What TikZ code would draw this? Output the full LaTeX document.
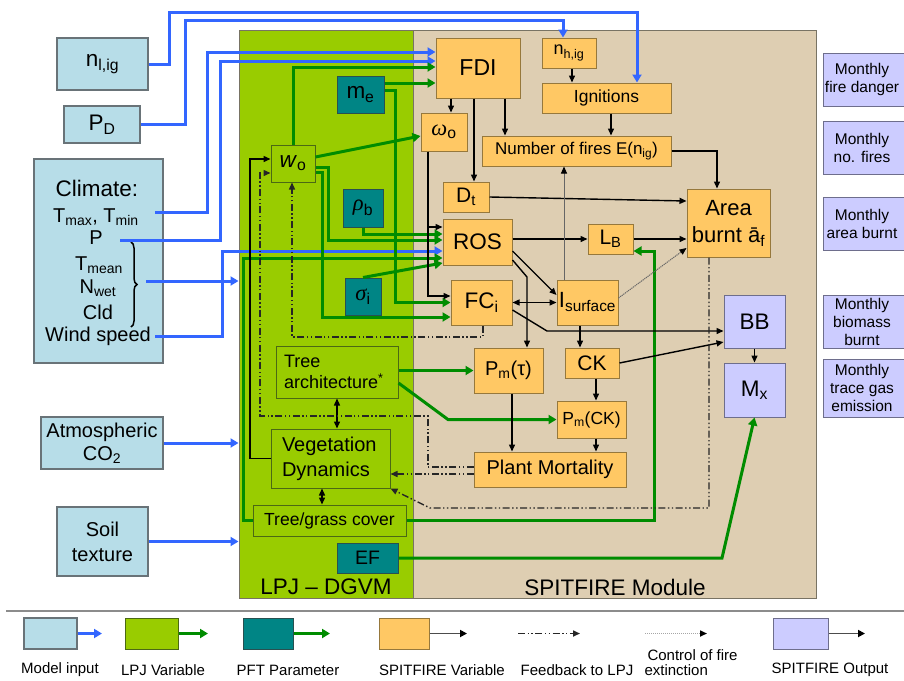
\documentclass[tikz,border=0pt]{standalone}
\usepackage{fontspec}
\setmainfont{Liberation Sans}
\newfontfamily\serifgr{Liberation Serif}
\usetikzlibrary{arrows.meta,decorations.pathreplacing}
\definecolor{inblue}{RGB}{183,221,232}
\definecolor{inborder}{RGB}{105,115,120}
\definecolor{lpjgreen}{RGB}{153,204,0}
\definecolor{lpjborder}{RGB}{75,105,20}
\definecolor{tealbox}{RGB}{0,133,133}
\definecolor{pftborder}{RGB}{40,80,80}
\definecolor{orangebox}{RGB}{255,200,100}
\definecolor{spborder}{RGB}{150,120,60}
\definecolor{lavbox}{RGB}{204,204,255}
\definecolor{outborder}{RGB}{110,110,140}
\definecolor{tanbox}{RGB}{222,206,178}
\definecolor{regborder}{RGB}{120,115,100}
\definecolor{blueln}{RGB}{51,102,255}
\definecolor{greenln}{RGB}{0,140,0}
\newcommand\szXL{\fontsize{22.5}{27}\selectfont}
\newcommand\szL{\fontsize{20}{25}\selectfont}
\newcommand\szM{\fontsize{18}{21}\selectfont}
\newcommand\szS{\fontsize{15.5}{18}\selectfont}
\newcommand\szLeg{\fontsize{15}{16}\selectfont}
\newcommand\grit[1]{{\serifgr\itshape #1}}
\begin{document}
\begin{tikzpicture}[x=1pt,y=-1pt,
  region/.style={draw=regborder, line width=1pt, inner sep=0pt},
  inbox/.style={draw=inborder, fill=inblue, line width=1.2pt, inner sep=0pt},
  lpjbox/.style={draw=lpjborder, fill=lpjgreen, line width=1pt, inner sep=0pt},
  pftbox/.style={draw=pftborder, fill=tealbox, line width=1pt, inner sep=0pt},
  spbox/.style={draw=spborder, fill=orangebox, line width=1pt, inner sep=0pt},
  outbox/.style={draw=outborder, fill=lavbox, line width=1pt, inner sep=0pt},
  bl/.style={draw=blueln, line width=3pt, -{Triangle[length=8pt,width=9pt]}},
  gr/.style={draw=greenln, line width=3pt, -{Triangle[length=8pt,width=9pt]}},
  bk/.style={draw=black, line width=1.4pt, -{Triangle[length=7pt,width=6pt]}},
  bkd/.style={draw=black, line width=1.4pt, {Triangle[length=7pt,width=6pt]}-{Triangle[length=7pt,width=6pt]}},
  fb/.style={draw=black!85, line width=1.4pt, dash pattern=on 7pt off 2.5pt on 1.4pt off 2.5pt on 1.4pt off 2.5pt, -{Triangle[length=7pt,width=6pt]}},
  ctl/.style={draw=black!60, line width=1pt, dash pattern=on 1.2pt off 0.8pt, -{Triangle[length=7pt,width=6pt,color=black]}},
  legln/.style={draw=black!70, line width=1.8pt, -{Triangle[length=7pt,width=7pt,color=black]}}
]
\useasboundingbox (0,0) rectangle (904,680);

% regions
\node[region, fill=tanbox, minimum width=403pt, minimum height=568pt] (spit) at (614.5,314) {};
\node[region, fill=lpjgreen, minimum width=174pt, minimum height=568pt] (lpj) at (326,314) {};
\node[font=\szXL] (lpjlbl) at (326,587) {LPJ – DGVM};
\node[font=\szXL] (spitlbl) at (615,587) {SPITFIRE Module};

% model inputs
\node[inbox, minimum width=91pt, minimum height=52pt, font=\szXL] (nlig) at (102.5,64) {n\textsubscript{l,ig}};
\node[inbox, minimum width=76pt, minimum height=37pt, font=\szXL] (pd) at (102,124.5) {P\textsubscript{D}};
\node[inbox, minimum width=129pt, minimum height=204pt] (clim) at (98.5,261) {};
\node[font=\szXL] (climlbl) at (97,188) {Climate:};
\node[font=\szL] (tmax) at (96,217) {T\textsubscript{max}, T\textsubscript{min}};
\node[font=\szL] (pp) at (96,238) {P};
\node[font=\szL] (tmean) at (99,265) {T\textsubscript{mean}};
\node[font=\szL] (nwet) at (98,288) {N\textsubscript{wet}};
\node[font=\szL] (cld) at (98,312) {Cld};
\node[font=\szL] (wind) at (98,336) {Wind speed};
\draw[line width=1.5pt, decorate, decoration={brace, amplitude=6pt}] (131,242) -- (131,327);
\node[inbox, minimum width=122pt, minimum height=52pt, font={\fontsize{20}{23}\selectfont}, align=center] (co2) at (102,443) {Atmospheric\\CO\textsubscript{2}};
\node[inbox, minimum width=91pt, minimum height=69pt, font=\szL, align=center] (soil) at (102.5,541.5) {Soil\\texture};

% SPITFIRE variables
\node[spbox, minimum width=84pt, minimum height=60pt, font={\fontsize{23}{27}\selectfont}] (fdi) at (478,68) {FDI};
\node[spbox, minimum width=54pt, minimum height=30pt, font=\szM] (nhig) at (569,53) {n\textsubscript{h,ig}};
\node[spbox, minimum width=129pt, minimum height=30pt, font={\fontsize{17.5}{20}\selectfont}] (ign) at (606.5,98) {Ignitions};
\node[spbox, minimum width=46pt, minimum height=38pt, font=\szXL] (omega) at (444,132) {\grit{ω}\textsubscript{o}};
\node[spbox, minimum width=189pt, minimum height=30pt, font={\fontsize{17}{20}\selectfont}] (nfires) at (576.5,151) {Number of fires E(n\textsubscript{ig})};
\node[spbox, minimum width=46pt, minimum height=30pt, font={\fontsize{21}{24}\selectfont}] (dt) at (466,197) {D\textsubscript{t}};
\node[spbox, minimum width=69pt, minimum height=46pt, font=\szXL] (ros) at (477.5,242) {ROS};
\node[spbox, minimum width=45pt, minimum height=30pt, font={\fontsize{21}{24}\selectfont}] (lb) at (610.5,239) {L\textsubscript{B}};
\node[spbox, minimum width=83pt, minimum height=68pt, font={\fontsize{22}{27}\selectfont}, align=center] (area) at (728.5,223) {Area\\burnt ā\textsubscript{f}};
\node[spbox, minimum width=61pt, minimum height=45pt, font=\szXL] (fc) at (481.5,302.5) {FC\textsubscript{i}};
\node[spbox, minimum width=61pt, minimum height=45pt, font={\fontsize{22}{26}\selectfont}] (isurf) at (587.5,302.5) {I\textsubscript{surface}};
\node[spbox, minimum width=69pt, minimum height=45pt, font=\szL] (pmt) at (508.5,370.5) {P\textsubscript{m}(τ)};
\node[spbox, minimum width=54pt, minimum height=30pt, font={\fontsize{21}{24}\selectfont}] (ck) at (592,363) {CK};
\node[spbox, minimum width=69pt, minimum height=37pt, font={\fontsize{17.5}{20}\selectfont}] (pmck) at (591.5,419.5) {P\textsubscript{m}(CK)};
\node[spbox, minimum width=152pt, minimum height=35pt, font=\szL] (pm) at (550,469.5) {Plant Mortality};

% SPITFIRE outputs
\node[outbox, minimum width=61pt, minimum height=53pt, font=\szXL] (bb) at (754.5,321.5) {BB};
\node[outbox, minimum width=61pt, minimum height=54pt, font=\szXL] (mx) at (754.5,390) {M\textsubscript{x}};

% LPJ variables and PFT parameters
\node[pftbox, minimum width=47pt, minimum height=37pt, font=\szXL] (me) at (360.5,94.5) {m\textsubscript{e}};
\node[lpjbox, minimum width=44pt, minimum height=37pt, font=\szXL] (wo) at (293,163.5) {\textit{w}\textsubscript{o}};
\node[pftbox, minimum width=40pt, minimum height=38pt, font=\szXL] (rho) at (363,208) {\grit{ρ}\textsubscript{b}};
\node[pftbox, minimum width=36pt, minimum height=37pt, font=\szXL] (sigma) at (363,296.5) {\grit{σ}\textsubscript{i}};
\node[lpjbox, minimum width=122pt, minimum height=52pt, font=\szM, align=left, text width=106pt] (treearch) at (337,372) {Tree\\architecture\textsuperscript{*}};
\node[lpjbox, minimum width=119pt, minimum height=59pt, font=\szL, align=left, text width=97pt] (vegdyn) at (330.5,458.5) {Vegetation\\Dynamics};
\node[lpjbox, minimum width=153pt, minimum height=31pt, font={\fontsize{17.5}{20}\selectfont}] (tgc) at (329.5,520.5) {Tree/grass cover};
\node[pftbox, minimum width=61pt, minimum height=30pt, font={\fontsize{19.5}{22}\selectfont}] (ef) at (367.5,558) {EF};

% monthly outputs
\node[outbox, minimum width=87pt, minimum height=53pt] (o1) at (866.5,79.5) {};
\node[font=\szS, align=center] (o1t) at (862,79.5) {Monthly\\fire danger};
\node[outbox, minimum width=87pt, minimum height=53pt] (o2) at (866.5,147.5) {};
\node[font=\szS, align=center] (o2t) at (862,147.5) {Monthly\\no. fires};
\node[outbox, minimum width=87pt, minimum height=53pt] (o3) at (866.5,223.5) {};
\node[font=\szS, align=center] (o3t) at (862,223.5) {Monthly\\area burnt};
\node[outbox, minimum width=87pt, minimum height=53pt] (o4) at (866.5,321.5) {};
\node[font=\szS, align=center] (o4t) at (862,321.5) {Monthly\\biomass\\burnt};
\node[outbox, minimum width=87pt, minimum height=58pt] (o5) at (866.5,388) {};
\node[font=\szS, align=center] (o5t) at (862,388) {Monthly\\trace gas\\emission};

% free ends of input lines
\coordinate (c1) at (155,212);
\coordinate (c2) at (120,240);
\coordinate (c3) at (146,281);
\coordinate (c4) at (155,336);

% blue connectors (model input)
\draw[bl] (nlig.east) -| (169,12) -| ([xshift=30.5pt]ign.north);
\draw[bl] (pd.east) -| (185,20) -| ([xshift=-6pt]nhig.north);
\draw[bl] (c1) -| (207,52) -- ([yshift=16pt]fdi.west);
\draw[bl] (c2) -| (220,61) -- ([yshift=7pt]fdi.west);
\draw[bl] (c3) -- (lpj.west |- c3);
\draw[bl] (c4) -| (222,251) -- ([yshift=-9pt]ros.west);
\draw[bl] (co2.east) -- (lpj.west |- co2.east);
\draw[bl] (soil.east) -- (lpj.west |- soil.east);

% green connectors (LPJ variables / PFT parameters)
\draw[gr] (wo.north) |- ([yshift=1pt]fdi.west);
\draw[gr] ([yshift=11.5pt]me.east) -- ([yshift=-15pt]fdi.west);
\draw[gr] ([yshift=4.5pt]me.east) -| (395,302.5) -- (fc.west);
\draw[gr] ([yshift=6.5pt]wo.east) -- ([yshift=-4pt]omega.west);
\draw[gr] ([yshift=-3.5pt]wo.east) -| (328,240) -- ([yshift=2pt]ros.west);
\draw[gr] ([yshift=-8.5pt]wo.east) -| (322,317) -- ([yshift=-14.5pt]fc.west);
\draw[gr] (rho.south) |- ([yshift=8pt]ros.west);
\draw[gr] (sigma.north) -- ([yshift=-21pt]ros.west);
\draw[gr] (tgc.west) -| (243,258) -- ([yshift=-16pt]ros.west);
\draw[gr] (treearch.east |- pmt.west) -- (pmt.west);
\draw[gr] ([yshift=-11pt]treearch.east) -- (448,419.5) -- (pmck.west);
\draw[gr] (tgc.east) -| (654,251) -- ([yshift=-12pt]lb.east);
\draw[gr] (ef.east) -- (722,558) -- (mx.south);

% black connectors (SPITFIRE variables)
\draw[bk] ([xshift=-27pt]fdi.south) -- ([xshift=7pt]omega.north);
\draw[bk] ([xshift=-4pt]fdi.south) -- ([xshift=8pt]dt.north);
\draw[bk] ([xshift=27pt]fdi.south) -- ([xshift=-71.5pt]nfires.north);
\draw[bk] ([xshift=3pt]nhig.south) -- ([xshift=-34.5pt]ign.north);
\draw[bk] ([xshift=4.5pt]ign.south) -- ([xshift=34.5pt]nfires.north);
\draw[bk] (nfires.east) -| ([xshift=-11.5pt]area.north);
\draw[bk] (dt.east) -- ([yshift=22pt]area.west);
\draw[bk] ([xshift=-16pt]omega.south) |- ([yshift=15pt]ros.west);
\draw[bk] ([xshift=-16pt]omega.south) |- ([yshift=6.5pt]fc.west);
\draw[bk] ([yshift=3pt]ros.east) -- (lb.west);
\draw[bk] (lb.east) -- (area.west |- lb.east);
\draw[bk] ([yshift=-9pt]ros.east) -- ([yshift=7.5pt]isurf.west);
\draw[bk] ([yshift=-18pt]ros.east) -- (527,277) -- ([xshift=18.5pt]pmt.north);
\draw[bkd] (fc.east) -- (isurf.west);
\draw[bk] ([xshift=-7.5pt]isurf.south) -- ([xshift=-12pt]ck.north);
\draw[bk] ([xshift=4pt]ck.south) -- ([xshift=4.5pt]pmck.north);
\draw[bk] ([xshift=3.5pt]pmt.south) -- ([xshift=-38pt]pm.north);
\draw[bk] ([xshift=4.5pt]pmck.south) -- ([xshift=46pt]pm.north);
\draw[bk] ([yshift=-7.5pt]fc.east) -- (547,331) -- ([yshift=-9.5pt]bb.west);
\draw[bk] (ck.east) -- ([yshift=-20.5pt]bb.west);
\draw[bk] (bb.south) -- (mx.north);
\draw[bkd] (treearch.south) -- ([xshift=6.5pt]vegdyn.north);
\draw[bkd] ([xshift=-8.5pt]vegdyn.south) -- ([xshift=-7.5pt]tgc.north);
\draw[bk] (vegdyn.west) -| (250,159) -- ([yshift=4.5pt]wo.west);

% control of fire extinction
\draw[ctl] ([xshift=-23.5pt]isurf.north) -- ([xshift=-12.5pt]nfires.south);
\draw[ctl] ([yshift=4.5pt]isurf.east) -- ([yshift=-25pt]area.west);

% feedback to LPJ
\draw[fb] ([yshift=-4.5pt]pm.west) -- ([yshift=-15.5pt]vegdyn.east);
\draw[fb] ([yshift=2.5pt]pm.west) -- (428,467) -- (428,416) -- (260,416) -- (260,173) -- ([yshift=-9.5pt]wo.west);
\draw[fb] ([xshift=1.5pt]fc.south) -- (483,337) -- (292,337) -- ([xshift=-1pt]wo.south);
\draw[fb] ([xshift=-19.5pt]area.south) -- (709,508) -- (430,508) -- (vegdyn.south east);

% legend
\draw[draw=black!45, line width=2pt] (6,611) -- (904,611);
\node[inbox, minimum width=53pt, minimum height=31pt] (k1) at (50.5,633.5) {};
\coordinate (k1e) at (102,633.5);
\draw[bl, line width=2.6pt] (k1.east) -- (k1e);
\node[lpjbox, minimum width=53pt, minimum height=31pt] (k2) at (151.5,633.5) {};
\coordinate (k2e) at (208,633.5);
\draw[gr, line width=2.6pt] (k2.east) -- (k2e);
\node[pftbox, minimum width=50pt, minimum height=31pt] (k3) at (268,633.5) {};
\coordinate (k3e) at (330,633.5);
\draw[gr, line width=2.6pt] (k3.east) -- (k3e);
\node[spbox, minimum width=50pt, minimum height=31pt] (k4) at (404,633.5) {};
\coordinate (k4e) at (467,633.5);
\draw[legln] (k4.east) -- (k4e);
\coordinate (k5s) at (518,633.5);
\coordinate (k5e) at (580,633.5);
\draw[fb, line width=1.6pt] (k5s) -- (k5e);
\coordinate (k6s) at (645,633.5);
\coordinate (k6e) at (707,633.5);
\draw[ctl, draw=black!35, line width=1.6pt] (k6s) -- (k6e);
\node[outbox, minimum width=55pt, minimum height=31pt] (k7) at (800.5,633.5) {};
\coordinate (k7e) at (865,633.5);
\draw[legln] (k7.east) -- (k7e);
\node[font=\szLeg] (t1) at (60,670) {Model input};
\node[font=\szLeg] (t2) at (163,670) {LPJ Variable};
\node[font=\szLeg] (t3) at (288,670) {PFT Parameter};
\node[font=\szLeg] (t4) at (442,670) {SPITFIRE Variable};
\node[font=\szLeg] (t5) at (577,670) {Feedback to LPJ};
\node[font=\szLeg, anchor=west] (t6a) at (644,655) {Control of fire};
\node[font=\szLeg, anchor=west] (t6b) at (641,670) {extinction};
\node[font=\szLeg] (t7) at (830,670) {SPITFIRE Output};
\end{tikzpicture}
\end{document}
